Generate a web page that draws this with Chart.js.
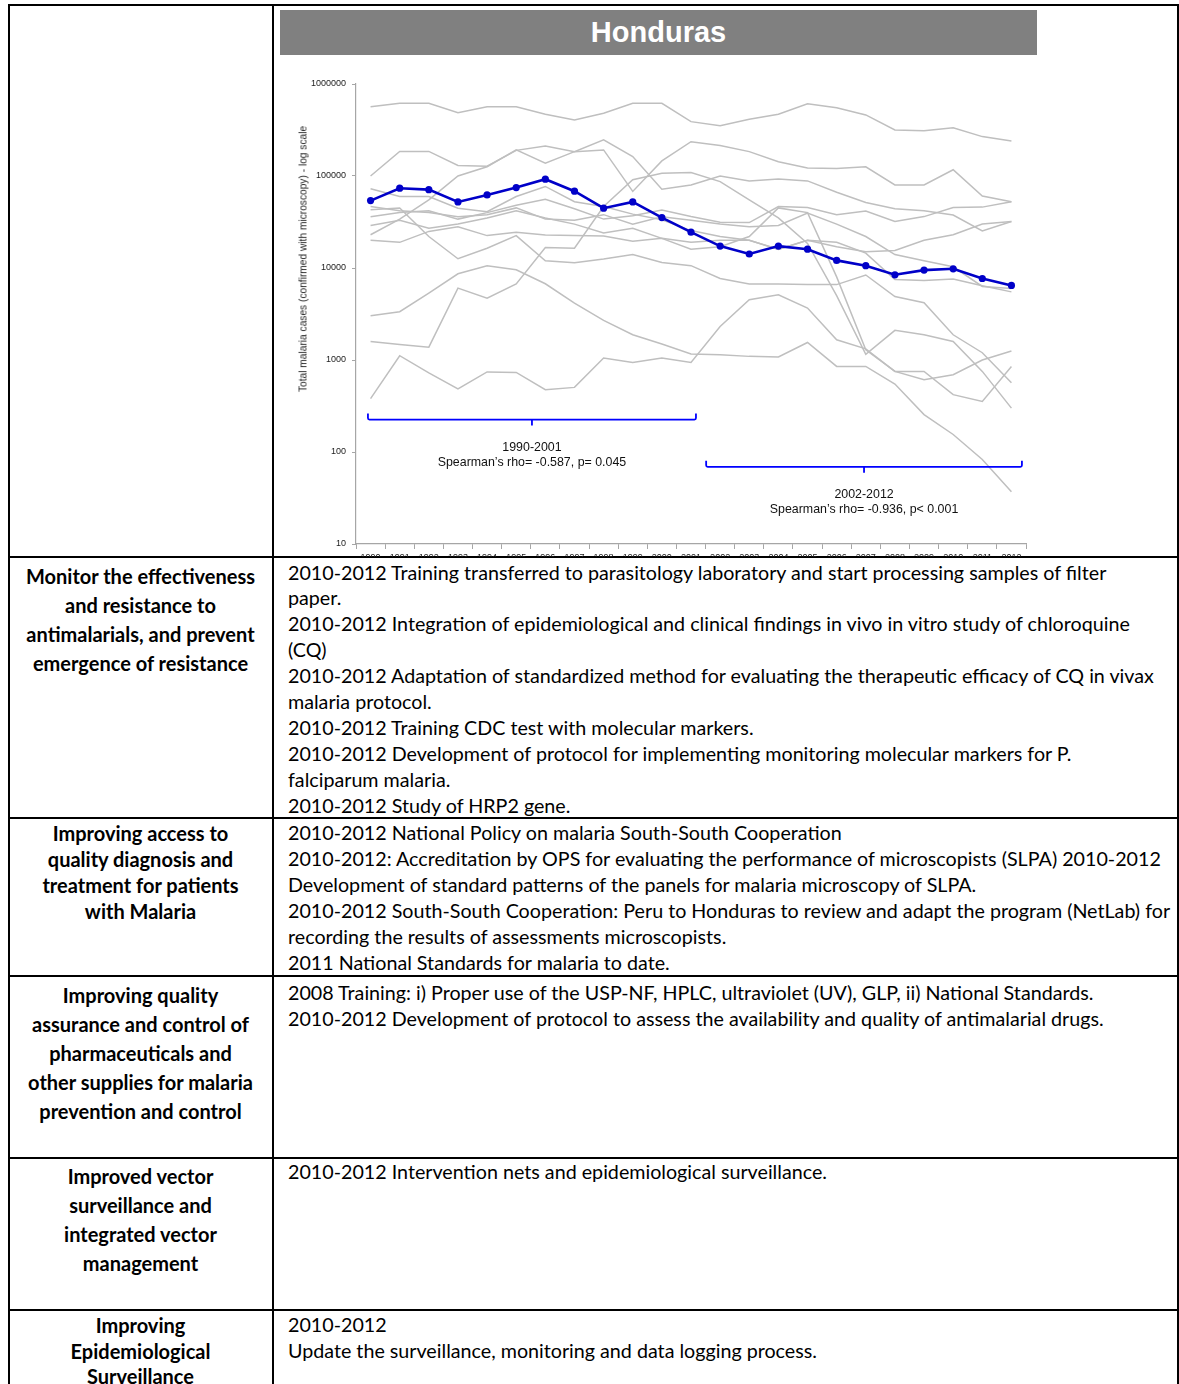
<!DOCTYPE html>
<html>
<head>
<meta charset="utf-8">
<script src="https://cdn.jsdelivr.net/npm/chart.js@4.4.1/dist/chart.umd.min.js"></script>
<style>
  html, body { margin: 0; padding: 0; background: #fff; }
  body { width: 1179px; height: 1384px; position: relative; overflow: hidden; font-family: 'Lato', 'Open Sans', sans-serif; color: #000; }
  .hline { position: absolute; background: #000; height: 2px; }
  .vline { position: absolute; background: #000; width: 2px; }
  .l { position: absolute; white-space: nowrap; line-height: 20px; height: 20px; font-size: 20px; margin-top: -1px; }
  .r { left: 288px; font-size: 19.7px; }
  .c { left: 8px; width: 265px; text-align: center; font-weight: 700; }
  #title { position: absolute; left: 280px; top: 10px; width: 757px; height: 45px; background: #808080; color: #fff;
           font-family: 'Liberation Sans', Arial, sans-serif; font-weight: 700; font-size: 29px; line-height: 45px; text-align: center; }
  #chartWrap { position: absolute; left: 275px; top: 56px; width: 760px; height: 501px; overflow: hidden; }
  #ytitle { position: absolute; left: 303px; top: 259px; transform: translate(-50%, -50%) rotate(-90deg); white-space: nowrap;
            font-family: 'Liberation Sans', Arial, sans-serif; font-size: 10.2px; color: #222; }
</style>
</head>
<body>
<!-- table grid -->
<div class="hline" style="left:8px; top:4px; width:1171px;"></div>
<div class="vline" style="left:8px; top:4px; height:1380px;"></div>
<div class="vline" style="left:272px; top:4px; height:1380px;"></div>
<div class="vline" style="left:1177px; top:4px; height:1380px;"></div>
<div class="hline" style="left:8px; top:556px; width:1171px;"></div>
<div class="hline" style="left:8px; top:817px; width:1171px;"></div>
<div class="hline" style="left:8px; top:975px; width:1171px;"></div>
<div class="hline" style="left:8px; top:1157px; width:1171px;"></div>
<div class="hline" style="left:8px; top:1309px; width:1171px;"></div>

<div id="title">Honduras</div>
<div id="chartWrap"><canvas id="chart" width="760" height="520"></canvas></div>
<div id="ytitle">Total malaria cases (confirmed with microscopy) - log scale</div>

<!-- row: antimalarial resistance -->
<div class="l c" style="top:567px;">Monitor the effectiveness</div>
<div class="l c" style="top:596px;">and resistance to</div>
<div class="l c" style="top:625px;">antimalarials, and prevent</div>
<div class="l c" style="top:654px;">emergence of resistance</div>
<div class="l r" style="top:564px;">2010-2012 Training transferred to parasitology laboratory and start processing samples of filter</div>
<div class="l r" style="top:589px;">paper.</div>
<div class="l r" style="top:615px;">2010-2012 Integration of epidemiological and clinical findings in vivo in vitro study of chloroquine</div>
<div class="l r" style="top:641px;">(CQ)</div>
<div class="l r" style="top:667px;">2010-2012 Adaptation of standardized method for evaluating the therapeutic efficacy of CQ in vivax</div>
<div class="l r" style="top:693px;">malaria protocol.</div>
<div class="l r" style="top:719px;">2010-2012 Training CDC test with molecular markers.</div>
<div class="l r" style="top:745px;">2010-2012 Development of protocol for implementing monitoring molecular markers for P.</div>
<div class="l r" style="top:771px;">falciparum malaria.</div>
<div class="l r" style="top:797px;">2010-2012 Study of HRP2 gene.</div>

<!-- row: diagnosis and treatment -->
<div class="l c" style="top:824px;">Improving access to</div>
<div class="l c" style="top:850px;">quality diagnosis and</div>
<div class="l c" style="top:876px;">treatment for patients</div>
<div class="l c" style="top:902px;">with Malaria</div>
<div class="l r" style="top:824px;">2010-2012 National Policy on malaria South-South Cooperation</div>
<div class="l r" style="top:850px;">2010-2012: Accreditation by OPS for evaluating the performance of microscopists (SLPA) 2010-2012</div>
<div class="l r" style="top:876px;">Development of standard patterns of the panels for malaria microscopy of SLPA.</div>
<div class="l r" style="top:902px;">2010-2012 South-South Cooperation: Peru to Honduras to review and adapt the program (NetLab) for</div>
<div class="l r" style="top:928px;">recording the results of assessments microscopists.</div>
<div class="l r" style="top:954px;">2011 National Standards for malaria to date.</div>

<!-- row: pharmaceuticals -->
<div class="l c" style="top:986px;">Improving quality</div>
<div class="l c" style="top:1015px;">assurance and control of</div>
<div class="l c" style="top:1044px;">pharmaceuticals and</div>
<div class="l c" style="top:1073px;">other supplies for malaria</div>
<div class="l c" style="top:1102px;">prevention and control</div>
<div class="l r" style="top:984px;">2008 Training: i) Proper use of the USP-NF, HPLC, ultraviolet (UV), GLP, ii) National Standards.</div>
<div class="l r" style="top:1010px;">2010-2012 Development of protocol to assess the availability and quality of antimalarial drugs.</div>

<!-- row: vectors -->
<div class="l c" style="top:1167px;">Improved vector</div>
<div class="l c" style="top:1196px;">surveillance and</div>
<div class="l c" style="top:1225px;">integrated vector</div>
<div class="l c" style="top:1254px;">management</div>
<div class="l r" style="top:1163px;">2010-2012 Intervention nets and epidemiological surveillance.</div>

<!-- row: surveillance -->
<div class="l c" style="top:1316px;">Improving</div>
<div class="l c" style="top:1342px;">Epidemiological</div>
<div class="l c" style="top:1367px;">Surveillance</div>
<div class="l r" style="top:1316px;">2010-2012</div>
<div class="l r" style="top:1342px;">Update the surveillance, monitoring and data logging process.</div>

<script>
// Years on the horizontal axis
const years = ['1990','1991','1992','1993','1994','1995','1996','1997','1998','1999','2000',
               '2001','2002','2003','2004','2005','2006','2007','2008','2009','2010','2011','2012'];

// Honduras: total confirmed malaria cases
const honduras = [54000, 73700, 71100, 52300, 62300, 74800, 92300, 68400, 44700, 52300, 35300,
                  24500, 17300, 14200, 17300, 16000, 12100, 10600, 8440, 9490, 9800, 7690, 6460];

// Other countries of the region, same measure
const other01 = [567000, 617000, 617000, 488000, 567000, 567000, 469000, 406000, 481000, 617000, 617000,
                 390000, 352000, 414000, 469000, 611000, 553000, 461000, 317000, 311000, 335000, 268000, 240000];
const other02 = [100000, 185000, 185000, 130000, 128000, 190000, 212000, 184000, 247000, 163000, 72000,
                 80000, 100000, 88500, 93000, 88500, 66700, 51600, 44000, 42000, 37700, 25300, 32000];
const other03 = [23000, 34000, 55000, 100000, 126000, 192000, 138000, 184000, 192000, 68000, 146000,
                 236000, 214000, 184000, 143000, 122000, 121000, 126000, 80000, 80000, 117000, 60500, 52400];
const other04 = [72500, 59800, 59800, 44600, 41000, 59800, 77000, 52600, 46600, 38500, 33500,
                 25500, 22000, 20000, 15900, 20000, 19000, 14500, 7500, 7300, 7600, 6400, 5500];
const other05 = [43000, 45000, 22000, 12600, 16400, 22500, 12000, 11400, 12500, 14000, 11500,
                 10600, 7700, 6700, 6700, 6600, 6600, 8400, 4900, 4200, 1880, 1200, 565];
const other06 = [36000, 40000, 42000, 34000, 40000, 48000, 56000, 44000, 34000, 37000, 42800,
                 36200, 31500, 31200, 46600, 45500, 37900, 41700, 32000, 36200, 45500, 45900, 52400];
const other07 = [46600, 42000, 40000, 36000, 38000, 45000, 34000, 33000, 38000, 30000, 36000,
                 33000, 30000, 28000, 29000, 39500, 30000, 22000, 14000, 12000, 10300, 6300, 6000];
const other08 = [29000, 33000, 27000, 30000, 35000, 42000, 35000, 30000, 24000, 27000, 21000,
                 16000, 17000, 22000, 45000, 40000, 8000, 1290, 752, 611, 692, 1000, 1250];
const other09 = [20000, 19000, 25000, 28000, 22500, 24400, 22900, 22500, 22300, 19500, 21000,
                 19000, 20000, 20000, 16000, 20000, 17000, 15000, 15500, 20000, 23000, 30000, 32000];
const other10 = [1590, 1470, 1380, 6050, 4700, 6700, 16700, 16400, 46600, 91000, 107000,
                 109000, 87000, 55000, 35000, 18500, 5000, 1150, 2100, 1880, 1590, 752, 300];
const other11 = [3030, 3345, 5340, 8650, 10570, 9560, 6740, 4160, 2690, 1880, 1490,
                 1160, 1140, 1095, 1080, 1550, 852, 852, 548, 255, 155, 83, 37];
const other12 = [380, 1113, 723, 484, 741, 733, 476, 504, 1052, 942, 1052,
                 942, 2317, 4520, 5120, 3670, 1660, 1320, 752, 752, 420, 355, 852];

const others = [other01, other02, other03, other04, other05, other06,
                other07, other08, other09, other10, other11, other12];

// Decade ticks on the log axis
const yTicks = [10, 100, 1000, 10000, 100000, 1000000];

// Trend periods marked under the curves: category span, bracket level, caption
const periodFrom = [-0.09, 11.52];
const periodTo = [11.17, 22.36];
const periodLevel = [225, 69];
const periodCaption = [
  ['1990-2001', "Spearman\u2019s rho= -0.587, p= 0.045"],
  ['2002-2012', "Spearman\u2019s rho= -0.936, p< 0.001"]
];

const AXIS_GREY = '#a6a6a6';
const LINE_GREY = '#bfbfbf';
const BLUE = '#0000c8';

const datasets = [{
  label: 'Honduras',
  data: honduras,
  borderColor: BLUE,
  backgroundColor: BLUE,
  borderWidth: 2.6,
  pointRadius: 3.6,
  pointBackgroundColor: BLUE,
  pointBorderWidth: 0,
  order: 0
}].concat(others.map((d, i) => ({
  label: 'other' + (i + 1),
  data: d,
  borderColor: LINE_GREY,
  borderWidth: 1.5,
  pointRadius: 0,
  order: 1
})));

// Brackets with captions under each trend period
const periodBrackets = {
  id: 'periodBrackets',
  afterDatasetsDraw(chart) {
    const { ctx, scales: { x, y } } = chart;
    const step = x.getPixelForValue(1) - x.getPixelForValue(0);
    const px = v => x.getPixelForValue(0) + v * step;
    ctx.save();
    ctx.strokeStyle = '#0000ff';
    ctx.lineWidth = 1.8;
    for (let i = 0; i < periodFrom.length; i++) {
      const x0 = px(periodFrom[i]);
      const x1 = px(periodTo[i]);
      const yy = y.getPixelForValue(periodLevel[i]);
      const xm = (x0 + x1) / 2;
      ctx.beginPath();
      ctx.moveTo(x0, yy - 6);
      ctx.lineTo(x0, yy - 1.5);
      ctx.quadraticCurveTo(x0, yy, x0 + 1.5, yy);
      ctx.lineTo(x1 - 1.5, yy);
      ctx.quadraticCurveTo(x1, yy, x1, yy - 1.5);
      ctx.lineTo(x1, yy - 6);
      ctx.moveTo(xm, yy);
      ctx.lineTo(xm, yy + 6);
      ctx.stroke();
      ctx.fillStyle = '#111';
      ctx.font = "12.4px 'Liberation Sans', Arial, sans-serif";
      ctx.textAlign = 'center';
      ctx.textBaseline = 'middle';
      ctx.fillText(periodCaption[i][0], xm, yy + 28);
      ctx.fillText(periodCaption[i][1], xm, yy + 43);
    }
    ctx.restore();
  }
};

new Chart(document.getElementById('chart'), {
  type: 'line',
  data: { labels: years, datasets },
  options: {
    responsive: false,
    animation: false,
    events: [],
    layout: { padding: { top: 28, right: 9, left: 0, bottom: 0 } },
    plugins: { legend: { display: false }, tooltip: { enabled: false } },
    elements: { line: { tension: 0 } },
    scales: {
      x: {
        type: 'category',
        offset: true,
        grid: { offset: true, drawOnChartArea: false, color: AXIS_GREY, tickLength: 5, lineWidth: 1 },
        border: { color: AXIS_GREY, width: 1.2 },
        ticks: { color: '#222', font: { size: 9, family: "'Liberation Sans', Arial, sans-serif" }, padding: 3, maxRotation: 0, autoSkip: false },
        afterFit(scale) { scale.height = 32; }
      },
      y: {
        type: 'logarithmic',
        min: 10,
        max: 1000000,
        grid: { drawOnChartArea: false, color: AXIS_GREY, tickLength: 4 },
        border: { color: AXIS_GREY, width: 1.2 },
        ticks: {
          color: '#222',
          padding: 6,
          font: { size: 9, family: "'Liberation Sans', Arial, sans-serif" },
          callback: v => String(v)
        },
        afterBuildTicks(scale) { scale.ticks = yTicks.map(v => ({ value: v })); },
        afterFit(scale) { scale.width = 81; }
      }
    }
  },
  plugins: [periodBrackets]
});
</script>
</body>
</html>
